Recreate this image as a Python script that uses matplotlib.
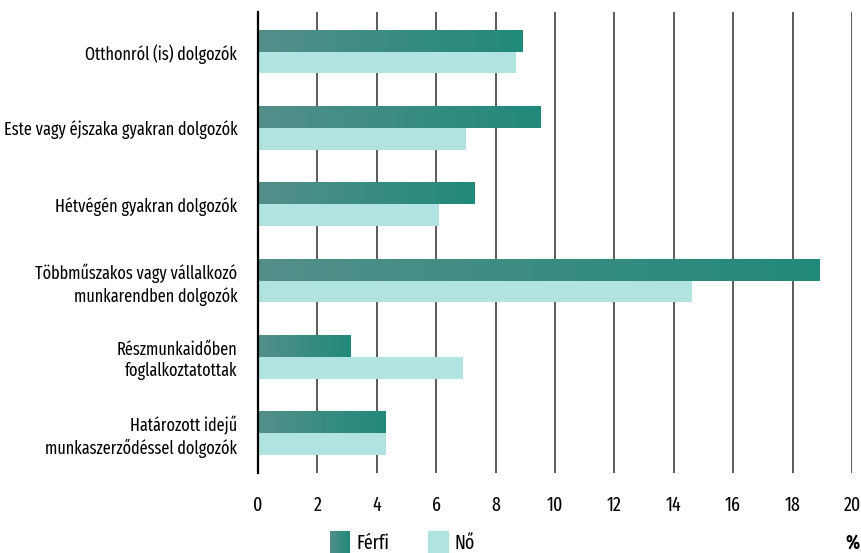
import numpy as np
import matplotlib
matplotlib.use("Agg")
import matplotlib.pyplot as plt
from matplotlib.colors import LinearSegmentedColormap

plt.rcParams['font.family'] = ['Fira Sans Extra Condensed', 'DejaVu Sans']

categories = [
    "Otthonról (is) dolgozók",
    "Este vagy éjszaka gyakran dolgozók",
    "Hétvégén gyakran dolgozók",
    "Többműszakos vagy vállalkozó\nmunkarendben dolgozók",
    "Részmunkaidőben\nfoglalkoztatottak",
    "Határozott idejű\nmunkaszerződéssel dolgozók",
]
ferfi = [8.9, 9.5, 7.3, 18.9, 3.1, 4.3]
no = [8.7, 7.0, 6.1, 14.6, 6.9, 4.3]
xticks = [0, 2, 4, 6, 8, 10, 12, 14, 16, 18, 20]
legend_labels = ["Férfi", "Nő"]

grad = LinearSegmentedColormap.from_list("ferfi", ["#548f8a", "#21897a"])
no_color = "#b1e3e0"

fig = plt.figure(figsize=(8.61, 5.53), dpi=100)
ax = fig.add_axes([258 / 861, 1 - 473 / 553, (852 - 258) / 861, (473 - 12) / 553])

y = np.arange(len(categories))
h = 0.285
gx = np.linspace(0, 1, 256).reshape(1, -1)

# Férfi bars with a left-to-right gradient
bars = ax.barh(y - h / 2, ferfi, height=h, color="none", zorder=3)
for b in bars:
    x0, y0 = b.get_x(), b.get_y()
    ax.imshow(gx, cmap=grad, aspect="auto", zorder=3,
              extent=[x0, x0 + b.get_width(), y0 + b.get_height(), y0])
ax.barh(y + h / 2, no, height=h, color=no_color, zorder=3)

ax.set_xlim(0, 20)
ax.set_ylim(5.5 + 0.02, -0.52)
ax.set_xticks(xticks)
ax.set_xticklabels([str(t) for t in xticks], fontsize=14)
ax.set_yticks(y)
ax.set_yticklabels(categories, fontsize=12.7, linespacing=1.25)
ax.tick_params(axis="both", length=0)
ax.tick_params(axis="x", pad=16)
ax.tick_params(axis="y", pad=15)
ax.grid(axis="x", color="#404040", linewidth=1.2, zorder=1)
for s in ["top", "right", "bottom"]:
    ax.spines[s].set_visible(False)
ax.spines["left"].set_color("black")
ax.spines["left"].set_linewidth(1.6)
ax.spines["left"].set_zorder(4)

# legend
lax = fig.add_axes([330 / 861, 0, 20 / 861, 22 / 553])
lax.imshow(gx, cmap=grad, aspect="auto")
lax.axis("off")
fig.patches.append(plt.Rectangle((428 / 861, 0), 20 / 861, 22 / 553,
                                 transform=fig.transFigure, color=no_color))
fig.text(357 / 861, 1 - 543 / 553, legend_labels[0], fontsize=14, va="center")
fig.text(455 / 861, 1 - 543 / 553, legend_labels[1], fontsize=14, va="center")
fig.text(1 - 0.002, 1 - 543 / 553, "%", fontsize=14, fontweight="bold",
         va="center", ha="right")

fig.savefig("out.png", dpi=100)
